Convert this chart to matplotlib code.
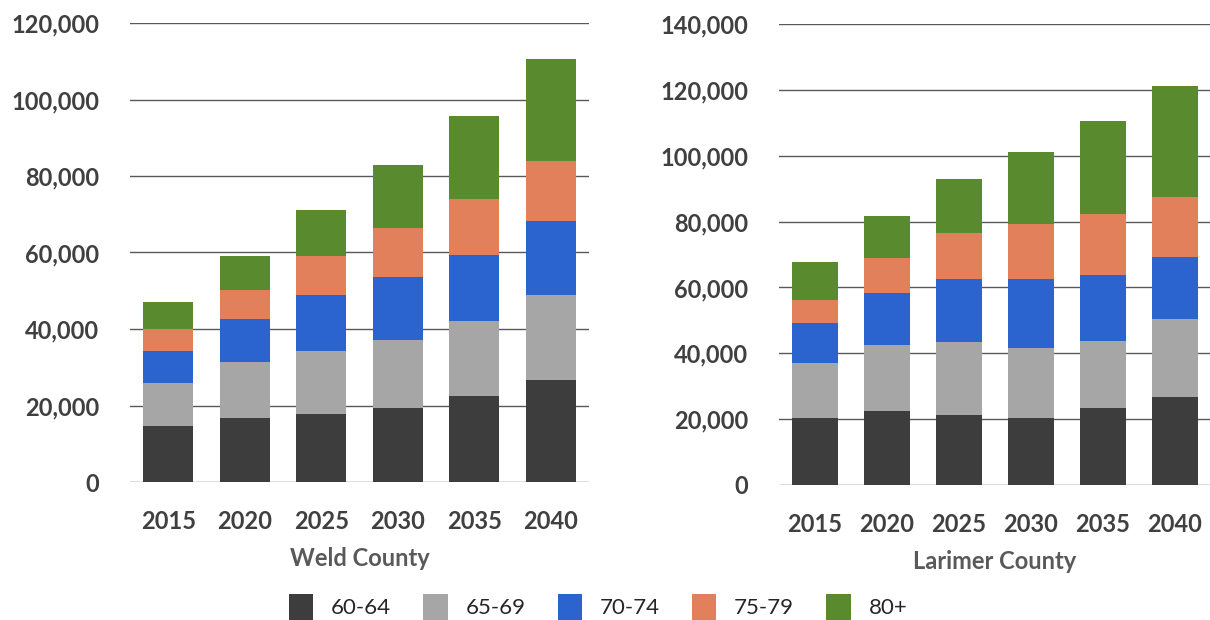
import matplotlib
matplotlib.use('Agg')
import matplotlib.pyplot as plt
import numpy as np
from matplotlib.patches import Patch

plt.rcParams['font.family'] = ['Lato', 'DejaVu Sans']

years = ['2015', '2020', '2025', '2030', '2035', '2040']
age_groups = ['60-64', '65-69', '70-74', '75-79', '80+']
colors = ['#3d3d3d', '#a6a6a6', '#2b63cf', '#e2805c', '#5a8a2e']

# segment sizes per age group
weld_60_64 = [14600, 16800, 17900, 19400, 22600, 26600]
weld_65_69 = [11400, 14500, 16300, 17700, 19400, 22400]
weld_70_74 = [8200, 11300, 14600, 16500, 17300, 19200]
weld_75_79 = [5700, 7500, 10300, 12800, 14800, 15800]
weld_80_plus = [7100, 8900, 11900, 16500, 21700, 26600]

larimer_60_64 = [20200, 22600, 21400, 20200, 23500, 26800]
larimer_65_69 = [16700, 19900, 22100, 21500, 20300, 23500]
larimer_70_74 = [12200, 15900, 19100, 20900, 19900, 19000]
larimer_75_79 = [7100, 10600, 14000, 16800, 18700, 18200]
larimer_80_plus = [11500, 12700, 16400, 21800, 28000, 33600]

weld = [weld_60_64, weld_65_69, weld_70_74, weld_75_79, weld_80_plus]
larimer = [larimer_60_64, larimer_65_69, larimer_70_74, larimer_75_79, larimer_80_plus]


def draw_county(ax, series, ymax, title, width):
    x = np.arange(len(years))
    bottom = np.zeros(len(years))
    for vals, c in zip(series, colors):
        ax.bar(x, vals, width, bottom=bottom, color=c, zorder=3)
        bottom += np.array(vals)
    ax.set_xlim(-0.5, len(years) - 0.5)
    ax.set_ylim(0, ymax)
    ax.set_yticks(np.arange(0, ymax + 1, 20000))
    ax.yaxis.set_major_formatter(matplotlib.ticker.FuncFormatter(lambda v, p: f'{int(v):,}'))
    ax.set_xticks(x)
    ax.set_xticklabels(years)
    ax.grid(axis='y', color='#595959', linewidth=1.0, zorder=0)
    ax.grid(axis='x', visible=False)
    for s in ax.spines.values():
        s.set_visible(False)
    ax.tick_params(length=0, labelsize=17, labelcolor='#404040')
    ax.tick_params(axis='x', pad=20)
    ax.tick_params(axis='y', pad=22)
    for lab in ax.get_xticklabels() + ax.get_yticklabels():
        lab.set_fontweight('bold')
    ax.set_xlabel(title, fontsize=17, fontweight='bold', color='#595959', labelpad=10)


fig = plt.figure(figsize=(12.1, 6.2), dpi=100)
ax1 = fig.add_axes([130 / 1210, 138 / 620, 459 / 1210, 459 / 620])
ax2 = fig.add_axes([779 / 1210, 135 / 620, 432 / 1210, 461 / 620])

draw_county(ax1, weld, 120000, 'Weld County', 0.65)
draw_county(ax2, larimer, 140000, 'Larimer County', 0.64)

handles = [Patch(facecolor=c, label=a) for a, c in zip(age_groups, colors)]
fig.legend(handles=handles, loc='center', bbox_to_anchor=(598 / 1210, 13 / 620),
           ncol=5, frameon=False, fontsize=16, handlelength=1.1, handleheight=1.4,
           columnspacing=1.45, handletextpad=0.8, labelcolor='#262626')

fig.savefig('out.png', dpi=100)
